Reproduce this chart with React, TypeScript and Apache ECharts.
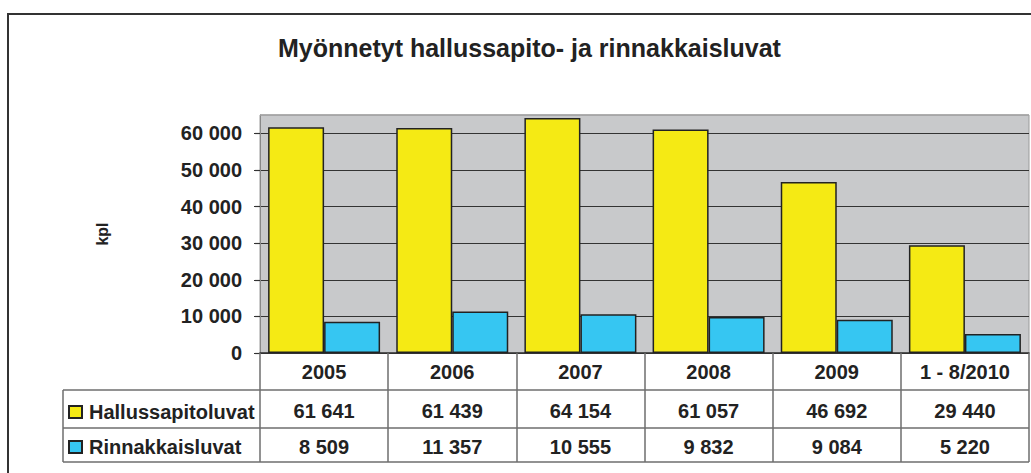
import React, { useEffect, useRef } from 'react';
import * as echarts from 'echarts';

const TITLE = 'Myönnetyt hallussapito- ja rinnakkaisluvat';
const Y_NAME = 'kpl';
const years = ['2005', '2006', '2007', '2008', '2009', '1 - 8/2010'];
const seriesNames = ['Hallussapitoluvat', 'Rinnakkaisluvat'];
const hallus = [61641, 61439, 64154, 61057, 46692, 29440];
const rinnak = [8509, 11357, 10555, 9832, 9084, 5220];
const yMin = 0;
const yMax = 65000;
const yInterval = 10000;
const yLabelMax = 60000;

const FONT = '"Liberation Sans", Arial, sans-serif';
const TEXT = '#222';
const TABLE_LINE = '#6e6e6e';

const fmt = (v: number) => String(v).replace(/\B(?=(\d{3})+(?!\d))/g, ' ');

const labelStyle = { fontSize: 20, fontWeight: 'bold' as const, color: TEXT, fontFamily: FONT };

export default function App() {
  const ref = useRef<HTMLDivElement>(null);
  useEffect(() => {
    const chart = echarts.init(ref.current!, null, { renderer: 'svg' });
    const tickValues: number[] = [];
    for (let v = yMin; v <= yLabelMax; v += yInterval) tickValues.push(v);
    const option: any = {
      animation: false,
      textStyle: { fontFamily: FONT },
      title: {
        text: TITLE,
        left: 278,
        top: 35,
        padding: 0,
        textStyle: { fontSize: 25, fontWeight: 'bold', color: TEXT, fontFamily: FONT },
      },
      grid: {
        left: 260,
        top: 115,
        right: 2,
        bottom: 120,
        show: true,
        backgroundColor: '#c8c9cb',
        borderColor: '#9a9a9a',
        borderWidth: 1,
      },
      legend: {
        data: seriesNames,
        orient: 'vertical',
        left: 68,
        top: 402,
        padding: 0,
        itemWidth: 13,
        itemHeight: 12,
        itemGap: 15,
        selectedMode: false,
        icon: 'rect',
        textStyle: { ...labelStyle, padding: [0, 0, 0, 2] },
      },
      xAxis: [
        {
          type: 'category',
          data: years,
          position: 'bottom',
          axisLine: { show: true, lineStyle: { color: '#333', width: 1.5 } },
          axisTick: { show: true, length: 109, interval: 0, lineStyle: { color: TABLE_LINE, width: 1.5 } },
          axisLabel: { ...labelStyle, interval: 0, margin: 9 },
        },
        {
          type: 'category',
          data: hallus.map(fmt),
          position: 'bottom',
          offset: 37,
          axisLine: { show: false },
          axisTick: { show: false },
          axisLabel: { ...labelStyle, interval: 0, margin: 11 },
        },
        {
          type: 'category',
          data: rinnak.map(fmt),
          position: 'bottom',
          offset: 75,
          axisLine: { show: false },
          axisTick: { show: false },
          axisLabel: { ...labelStyle, interval: 0, margin: 9 },
        },
      ],
      yAxis: {
        type: 'value',
        min: yMin,
        max: yMax,
        interval: yInterval,
        name: Y_NAME,
        nameLocation: 'middle',
        nameRotate: 90,
        nameGap: 150,
        nameTextStyle: { fontSize: 16, fontWeight: 'bold', color: TEXT, fontFamily: FONT },
        axisLine: { show: true, lineStyle: { color: '#888', width: 1 } },
        axisTick: { show: true, length: 6, customValues: tickValues, lineStyle: { color: '#333', width: 1.2 } },
        axisLabel: {
          ...labelStyle,
          margin: 18,
          formatter: (v: number) => (v > yLabelMax ? '' : fmt(v)),
        },
        splitLine: { show: true, lineStyle: { color: '#333', width: 1.2 } },
      },
      series: [
        {
          name: seriesNames[0],
          type: 'bar',
          data: hallus,
          barWidth: 56,
          barGap: '0%',
          itemStyle: { color: '#f5ea14', borderColor: '#222', borderWidth: 1.5 },
        },
        {
          name: seriesNames[1],
          type: 'bar',
          data: rinnak,
          barWidth: 56,
          barGap: '0%',
          itemStyle: { color: '#36c6f2', borderColor: '#222', borderWidth: 1.5 },
        },
      ],
      graphic: [
        { type: 'rect', silent: true, shape: { x: 8, y: 14, width: 1100, height: 600 }, style: { fill: 'none', stroke: '#333', lineWidth: 2 } },
        { type: 'line', silent: true, z: 100, shape: { x1: 260, y1: 115, x2: 1029, y2: 115 }, style: { stroke: '#a3a3a3', lineWidth: 1.5 } },
        { type: 'line', silent: true, shape: { x1: 63, y1: 390, x2: 1029, y2: 390 }, style: { stroke: TABLE_LINE, lineWidth: 1.5 } },
        { type: 'line', silent: true, shape: { x1: 63, y1: 428, x2: 1029, y2: 428 }, style: { stroke: TABLE_LINE, lineWidth: 1.5 } },
        { type: 'line', silent: true, shape: { x1: 63, y1: 462, x2: 1029, y2: 462 }, style: { stroke: TABLE_LINE, lineWidth: 1.5 } },
        { type: 'line', silent: true, shape: { x1: 63, y1: 390, x2: 63, y2: 462 }, style: { stroke: TABLE_LINE, lineWidth: 1.5 } },
      ],
    };
    chart.setOption(option);
    return () => chart.dispose();
  }, []);
  return <div ref={ref} style={{ position: 'absolute', left: 0, top: 0, width: 1031, height: 473 }} />;
}
